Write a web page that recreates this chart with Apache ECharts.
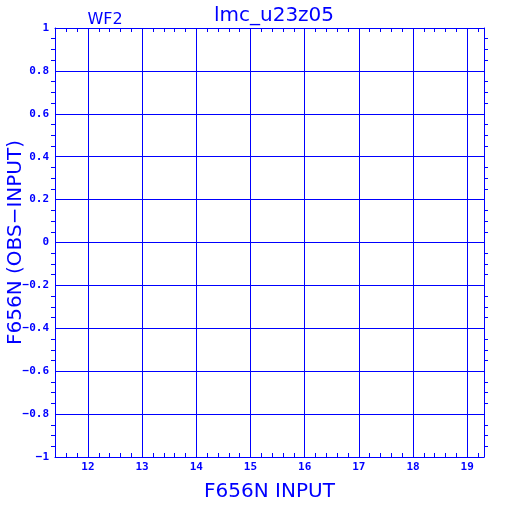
<!DOCTYPE html>
<html><head><meta charset="utf-8">
<script src="https://cdn.jsdelivr.net/npm/echarts@6/dist/echarts.min.js"></script>
<style>html,body{margin:0;padding:0;background:#fff}#c{width:512px;height:512px}</style>
</head><body><div id="c"></div>
<script>
const xMajor = [12, 13, 14, 15, 16, 17, 18, 19];
const xMinor = [11.6, 11.8, 12.2, 12.4, 12.6, 12.8, 13.2, 13.4, 13.6, 13.8, 14.2, 14.4, 14.6, 14.8, 15.2, 15.4, 15.6, 15.8, 16.2, 16.4, 16.6, 16.8, 17.2, 17.4, 17.6, 17.8, 18.2, 18.4, 18.6, 18.8, 19.2];
const xRange = [11.392, 19.31];
const yRange = [-1, 1];
const yStep = 0.2;
const points = [];
const blue = '#0000ff';
const lblFont = {color: blue, fontSize: 11, fontWeight: 'bold', fontFamily: 'DejaVu Sans Mono'};
const nameFont = {color: blue, fontSize: 20, fontWeight: 'normal', fontFamily: 'DejaVu Sans'};
function fmtY(v){ const s = (Math.round(v*10)/10).toString(); return s.replace('-', '\u2212'); }
function xAxisBase(pos, extra){
  return Object.assign({type:'value', position: pos, min: xRange[0], max: xRange[1],
    axisLine:{show:true, onZero:false, lineStyle:{color:blue, width:1}},
    axisLabel:{show:false}, axisTick:{show:false}, splitLine:{show:false}}, extra);
}
const chart = echarts.init(document.getElementById('c'));
chart.setOption({
  animation:false,
  backgroundColor:'#fff',
  grid:{left:55, right:28, top:28, bottom:55, containLabel:false, outerBoundsMode:'none'},
  title:[
    {text:'lmc_u23z05', left:269, top:1, textAlign:'center', textStyle:nameFont},
    {text:'WF2', left:100, top:7, textAlign:'center', textStyle:{color:blue, fontSize:16, fontWeight:'normal', fontFamily:'DejaVu Sans'}}
  ],
  xAxis:[
    xAxisBase('bottom', {
      name:'F656N INPUT', nameLocation:'middle', nameGap:25, nameMoveOverlap:false,
      nameTextStyle:nameFont,
      axisLabel:{show:true, customValues: xMajor, margin:5, ...lblFont},
      axisTick:{show:false, customValues: xMajor},
      splitLine:{show:true, lineStyle:{color:blue, width:1}}
    }),
    xAxisBase('bottom', {axisLine:{show:false, onZero:false}, axisTick:{show:true, inside:true, length:4, customValues: xMinor, lineStyle:{color:blue}}}),
    xAxisBase('top', {axisLine:{show:true, onZero:false, lineStyle:{color:blue, width:1}}, axisTick:{show:true, inside:true, length:4, customValues: xMinor, lineStyle:{color:blue}}})
  ],
  yAxis:[
    {type:'value', position:'left', min:yRange[0], max:yRange[1], interval:yStep,
     name:'F656N (OBS\u2212INPUT)', nameLocation:'middle', nameGap:29, nameRotate:90, nameMoveOverlap:false,
     nameTextStyle:nameFont,
     axisLine:{show:true, onZero:false, lineStyle:{color:blue, width:1}},
     axisLabel:{show:true, margin:6, formatter:fmtY, ...lblFont},
     axisTick:{show:false},
     minorTick:{show:true, splitNumber:4, length:4, lineStyle:{color:blue}},
     splitLine:{show:true, lineStyle:{color:blue, width:1}}},
    {type:'value', position:'right', min:yRange[0], max:yRange[1], interval:yStep,
     axisLine:{show:true, onZero:false, lineStyle:{color:blue, width:1}},
     axisLabel:{show:false}, axisTick:{show:false},
     minorTick:{show:true, splitNumber:4, length:4, lineStyle:{color:blue}},
     splitLine:{show:false}}
  ],
  series:[{type:'scatter', data: points, xAxisIndex:0, yAxisIndex:0}]
});
</script></body></html>
